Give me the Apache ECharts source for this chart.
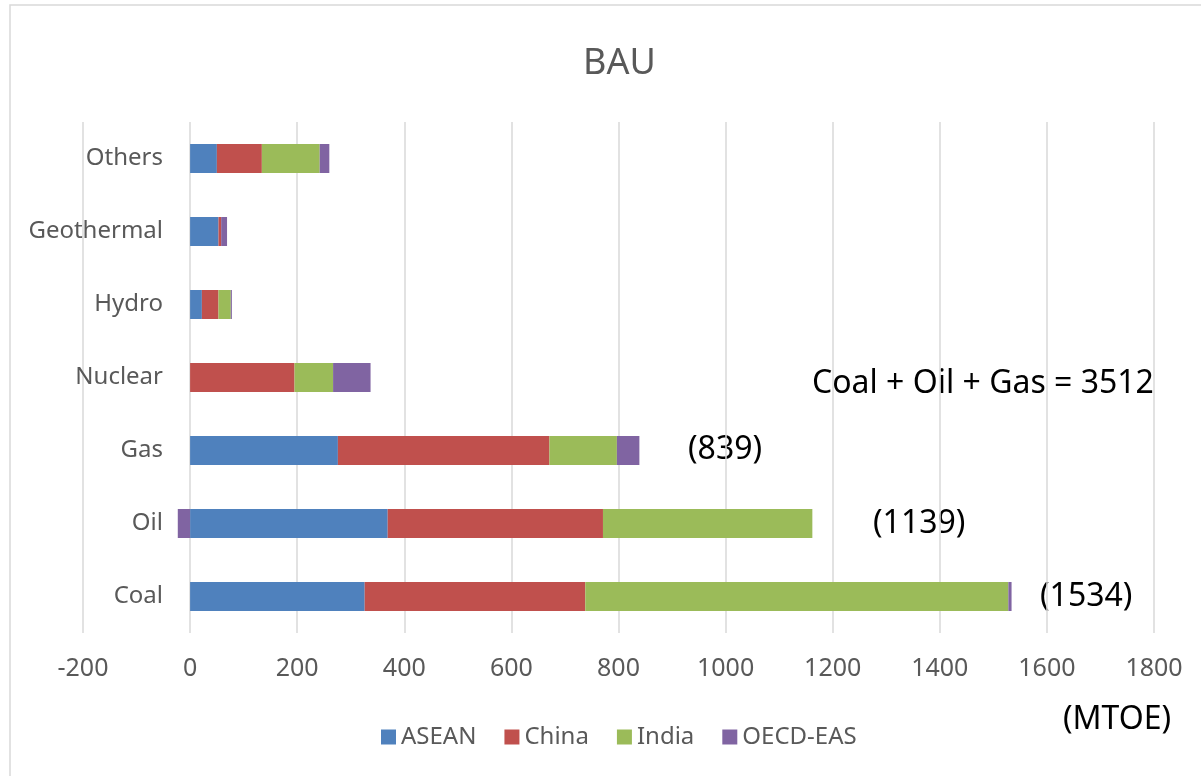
<!DOCTYPE html>
<html>
<head>
<meta charset="utf-8">
<title>BAU</title>
<script src="https://cdn.jsdelivr.net/npm/echarts@6/dist/echarts.min.js"></script>
<style>
  html, body { margin: 0; padding: 0; background: #fff; }
  #chart { width: 1201px; height: 776px; }
</style>
</head>
<body>
<div id="chart"></div>
<script>
// fuel categories, bottom to top
const categories = ['Coal', 'Oil', 'Gas', 'Nuclear', 'Hydro', 'Geothermal', 'Others']

// MTOE by region
const asean = [326, 369, 276, 0, 22, 53, 50]
const china = [412, 402, 395, 195, 31, 5, 84]
const india = [790, 391, 126, 72, 23, 0, 108]
const oecdEas = [6, -23, 42, 70, 2, 11, 18]

const seriesNames = ['ASEAN', 'China', 'India', 'OECD-EAS']
const seriesColors = ['#4f81bd', '#c0504d', '#9bbb59', '#8064a2']

const FONT = '"Noto Sans", "Open Sans", sans-serif'

const chart = echarts.init(document.getElementById('chart'))

const makeSeries = (name, data, color) => ({
  name: name,
  type: 'bar',
  stack: 'total',
  barWidth: 29,
  itemStyle: { color: color },
  data: data
})

// text boxes placed on the chart
const note = (text, left, top) => ({
  type: 'text',
  left: left,
  top: top,
  style: { text: text, fontSize: 32, fontFamily: FONT, fill: '#000' }
})

const option = {
  animation: false,
  textStyle: { fontFamily: FONT },
  title: {
    text: 'BAU',
    left: 578,
    top: 41,
    textStyle: { fontSize: 36, fontWeight: 'normal', color: '#595959', fontFamily: FONT }
  },
  legend: {
    data: seriesNames,
    bottom: 22,
    left: 376,
    itemWidth: 15,
    itemHeight: 15,
    itemGap: 28,
    icon: 'rect',
    textStyle: { fontSize: 24, color: '#595959', fontFamily: FONT }
  },
  grid: {
    left: 83,
    right: 47,
    top: 122,
    bottom: 143,
    containLabel: false,
    outerBoundsMode: 'none'
  },
  xAxis: {
    type: 'value',
    min: -200,
    max: 1800,
    interval: 200,
    axisLine: { show: false },
    axisTick: { show: false },
    axisLabel: {
      fontSize: 25,
      color: '#595959',
      margin: 23,
      fontFamily: FONT,
      formatter: (v) => String(v)
    },
    splitLine: { lineStyle: { color: '#d9d9d9', width: 1.5 } }
  },
  yAxis: {
    type: 'category',
    data: categories,
    // category labels sit next to the zero line, not the grid edge
    offset: -107,
    axisLine: { show: false },
    axisTick: { show: false },
    axisLabel: { fontSize: 24, color: '#595959', margin: 27, padding: [4, 0, 0, 0], fontFamily: FONT }
  },
  graphic: [
    {
      type: 'rect',
      shape: { x: 10, y: 5, width: 1200, height: 780 },
      style: { fill: 'none', stroke: '#d9d9d9', lineWidth: 1.5 },
      silent: true
    },
    note('Coal + Oil + Gas = 3512', 812, 368),
    note('(839)', 688, 434),
    note('(1139)', 873, 508),
    note('(1534)', 1040, 581),
    note('(MTOE)', 1063, 704)
  ],
  series: [
    makeSeries(seriesNames[0], asean, seriesColors[0]),
    makeSeries(seriesNames[1], china, seriesColors[1]),
    makeSeries(seriesNames[2], india, seriesColors[2]),
    makeSeries(seriesNames[3], oecdEas, seriesColors[3])
  ]
}

chart.setOption(option)
</script>
</body>
</html>
